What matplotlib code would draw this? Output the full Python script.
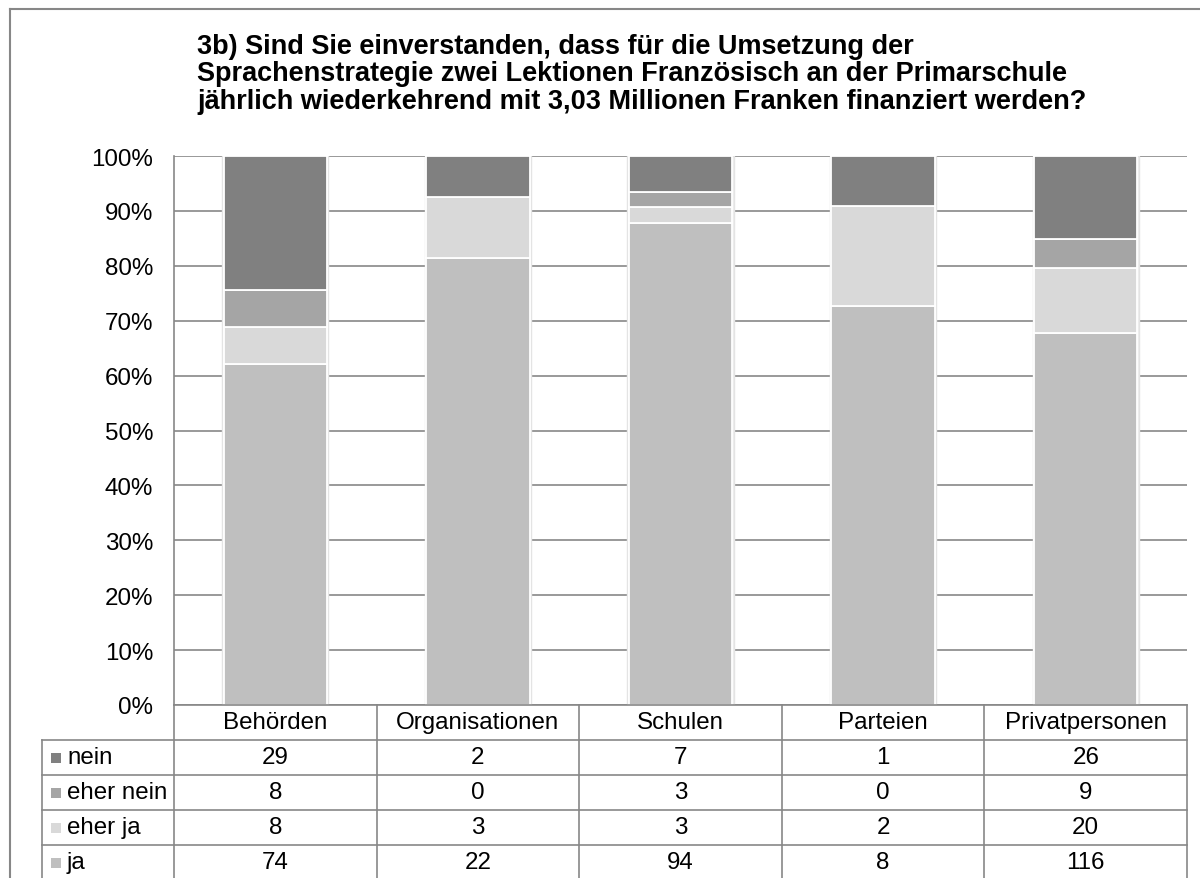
import matplotlib
matplotlib.use('Agg')
import matplotlib.pyplot as plt
import numpy as np
from matplotlib.transforms import blended_transform_factory
from matplotlib.lines import Line2D
from matplotlib.patches import Rectangle

plt.rcParams['font.family'] = ['Liberation Sans', 'DejaVu Sans']

# ---------------- data ----------------
categories = ['Behörden', 'Organisationen', 'Schulen', 'Parteien', 'Privatpersonen']
series_names = ['nein', 'eher nein', 'eher ja', 'ja']
nein = [29, 2, 7, 1, 26]
eher_nein = [8, 0, 3, 0, 9]
eher_ja = [8, 3, 3, 2, 20]
ja = [74, 22, 94, 8, 116]
ytick_values = [0, 10, 20, 30, 40, 50, 60, 70, 80, 90, 100]
ytick_labels = [f'{v}%' for v in ytick_values]
title = ("3b) Sind Sie einverstanden, dass für die Umsetzung der\n"
         "Sprachenstrategie zwei Lektionen Französisch an der Primarschule\n"
         "jährlich wiederkehrend mit 3,03 Millionen Franken finanziert werden?")

series = {'nein': nein, 'eher nein': eher_nein, 'eher ja': eher_ja, 'ja': ja}
colors = {'ja': '#bfbfbf', 'eher ja': '#d9d9d9', 'eher nein': '#a5a5a5', 'nein': '#808080'}
line_col = '#878787'

# ---------------- layout ----------------
W, H = 1200, 879
fig = plt.figure(figsize=(W / 100, H / 100), dpi=100)
L, R, T, B = 174, 1187, 157, 706
ax = fig.add_axes([L / W, 1 - B / H, (R - L) / W, (B - T) / H])

x = np.arange(len(categories))
totals = np.sum([np.array(series[n]) for n in series_names], axis=0)

# subtle shadow behind bars
ax.bar(x, np.full(len(x), 100.0), 0.525, color='#eeeeee', edgecolor='#e4e4e4',
       linewidth=1.0, zorder=2.5)

bottom = np.zeros(len(x))
for name in ['ja', 'eher ja', 'eher nein', 'nein']:
    pct = np.array(series[name]) / totals * 100
    ax.bar(x, pct, 0.51, bottom=bottom, color=colors[name], edgecolor='white',
           linewidth=1.3, zorder=3)
    bottom += pct

fs = 17.4
ax.set_xlim(-0.5, len(categories) - 0.5)
ax.set_ylim(0, 100)
ax.set_yticks(ytick_values)
ax.set_yticklabels(ytick_labels, fontsize=fs)
ax.set_xticks([])
ax.tick_params(axis='y', length=0, pad=15)
ax.yaxis.grid(True, color=line_col, linewidth=1.2)
ax.set_axisbelow(True)
for s in ['top', 'right', 'bottom']:
    ax.spines[s].set_visible(False)
ax.spines['left'].set_color(line_col)
ax.spines['left'].set_linewidth(1.2)

# ---------------- data table ----------------
ah = B - T
aw = R - L
rh = 35 / ah
xl = (42 - L) / aw
nrows = len(series_names)
bt = blended_transform_factory(ax.transData, ax.transAxes)
lkw = dict(color=line_col, linewidth=1.2, clip_on=False, zorder=5)

# horizontal lines
ax.add_line(Line2D([0, 1], [0, 0], transform=ax.transAxes, **lkw))
for k in range(1, nrows + 2):
    ax.add_line(Line2D([xl, 1], [-k * rh, -k * rh], transform=ax.transAxes, **lkw))
# vertical lines
ax.add_line(Line2D([0, 0], [0, -(nrows + 1) * rh], transform=ax.transAxes, **lkw))
ax.add_line(Line2D([xl, xl], [-rh, -(nrows + 1) * rh], transform=ax.transAxes, **lkw))
for i in range(len(categories)):
    xb = i + 0.5
    ax.add_line(Line2D([xb, xb], [0, -(nrows + 1) * rh], transform=bt, **lkw))

for i, c in enumerate(categories):
    ax.text(i, -0.5 * rh, c, transform=bt, ha='center', va='center', fontsize=fs, clip_on=False)
for r, name in enumerate(series_names):
    yc = -(r + 1.5) * rh
    sq = 10
    ax.add_patch(Rectangle(((51 - L) / aw, yc - sq / 2 / ah), sq / aw, sq / ah,
                           transform=ax.transAxes, facecolor=colors[name],
                           edgecolor='none', clip_on=False))
    ax.text((67 - L) / aw, yc, name, transform=ax.transAxes, ha='left', va='center',
            fontsize=fs, clip_on=False)
    for i, v in enumerate(series[name]):
        ax.text(i, yc, str(v), transform=bt, ha='center', va='center', fontsize=fs, clip_on=False)

# ---------------- title & frame ----------------
fig.text(197 / W, 1 - 34 / H, title, ha='left', va='top', fontsize=19.5,
         fontweight='bold', linespacing=1.07)
fig.add_artist(Line2D([10 / W, 1], [1 - 10 / H, 1 - 10 / H], transform=fig.transFigure,
                      color=line_col, linewidth=1.5))
fig.add_artist(Line2D([10 / W, 10 / W], [0, 1 - 10 / H], transform=fig.transFigure,
                      color=line_col, linewidth=1.5))

fig.savefig('out.png', dpi=100, facecolor='white')
